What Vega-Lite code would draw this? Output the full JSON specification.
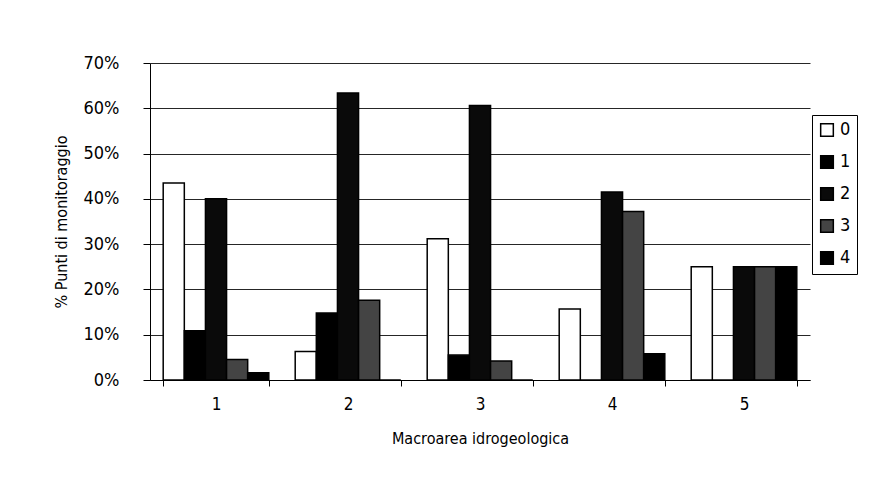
{
  "$schema": "https://vega.github.io/schema/vega-lite/v6.json",
  "width": 660,
  "height": 317,
  "autosize": {"type": "none"},
  "padding": {"left": 150, "top": 63, "right": 67, "bottom": 114},
  "background": "white",
  "data": {
    "values": [
      {"area": "1", "classe": "0", "pct": 0.435},
      {"area": "1", "classe": "1", "pct": 0.109},
      {"area": "1", "classe": "2", "pct": 0.40},
      {"area": "1", "classe": "3", "pct": 0.045},
      {"area": "1", "classe": "4", "pct": 0.016},
      {"area": "2", "classe": "0", "pct": 0.063},
      {"area": "2", "classe": "1", "pct": 0.148},
      {"area": "2", "classe": "2", "pct": 0.634},
      {"area": "2", "classe": "3", "pct": 0.176},
      {"area": "2", "classe": "4", "pct": 0},
      {"area": "3", "classe": "0", "pct": 0.312},
      {"area": "3", "classe": "1", "pct": 0.055},
      {"area": "3", "classe": "2", "pct": 0.606},
      {"area": "3", "classe": "3", "pct": 0.042},
      {"area": "3", "classe": "4", "pct": 0},
      {"area": "4", "classe": "0", "pct": 0.157},
      {"area": "4", "classe": "1", "pct": 0},
      {"area": "4", "classe": "2", "pct": 0.415},
      {"area": "4", "classe": "3", "pct": 0.372},
      {"area": "4", "classe": "4", "pct": 0.058},
      {"area": "5", "classe": "0", "pct": 0.25},
      {"area": "5", "classe": "1", "pct": 0},
      {"area": "5", "classe": "2", "pct": 0.25},
      {"area": "5", "classe": "3", "pct": 0.25},
      {"area": "5", "classe": "4", "pct": 0.25}
    ]
  },
  "mark": {"type": "bar", "stroke": "black", "strokeWidth": 1.5},
  "encoding": {
    "x": {
      "field": "area",
      "type": "nominal",
      "title": "Macroarea idrogeologica",
      "scale": {"paddingInner": 0.2, "paddingOuter": 0.1},
      "axis": {
        "labelAngle": 0,
        "domainColor": "black",
        "tickColor": "black",
        "tickBand": "extent",
        "tickSize": 6,
        "labelPadding": 10,
        "titlePadding": 18
      }
    },
    "xOffset": {"field": "classe", "type": "nominal", "scale": {"paddingInner": 0, "paddingOuter": 0}},
    "y": {
      "field": "pct",
      "type": "quantitative",
      "title": "% Punti di monitoraggio",
      "scale": {"domain": [0, 0.7], "nice": false},
      "axis": {
        "format": ".0%",
        "values": [0, 0.1, 0.2, 0.3, 0.4, 0.5, 0.6, 0.7],
        "grid": true,
        "gridColor": "black",
        "gridOpacity": 0.85,
        "domainColor": "black",
        "tickColor": "black",
        "tickSize": 7,
        "labelPadding": 24,
        "labelFontSize": 18,
        "titlePadding": 14
      }
    },
    "fill": {
      "field": "classe",
      "type": "nominal",
      "title": null,
      "scale": {
        "domain": ["0", "1", "2", "3", "4"],
        "range": ["#ffffff", "#000000", "#0a0a0a", "#444444", "#000000"]
      },
      "legend": {
        "orient": "none",
        "legendX": 662,
        "legendY": 52,
        "symbolType": "square",
        "symbolSize": 160,
        "symbolStrokeColor": "black",
        "symbolStrokeWidth": 1.5,
        "labelFontSize": 18,
        "rowPadding": 12,
        "strokeColor": "black",
        "padding": 6
      }
    }
  },
  "config": {
    "font": "DejaVu Sans Condensed",
    "view": {"stroke": null},
    "axis": {
      "labelFont": "DejaVu Sans Condensed",
      "titleFont": "DejaVu Sans Condensed",
      "labelFontSize": 17,
      "titleFontSize": 16,
      "titleFontWeight": "normal",
      "labelColor": "black",
      "titleColor": "black"
    },
    "legend": {"labelFont": "DejaVu Sans Condensed", "labelColor": "black"}
  }
}
